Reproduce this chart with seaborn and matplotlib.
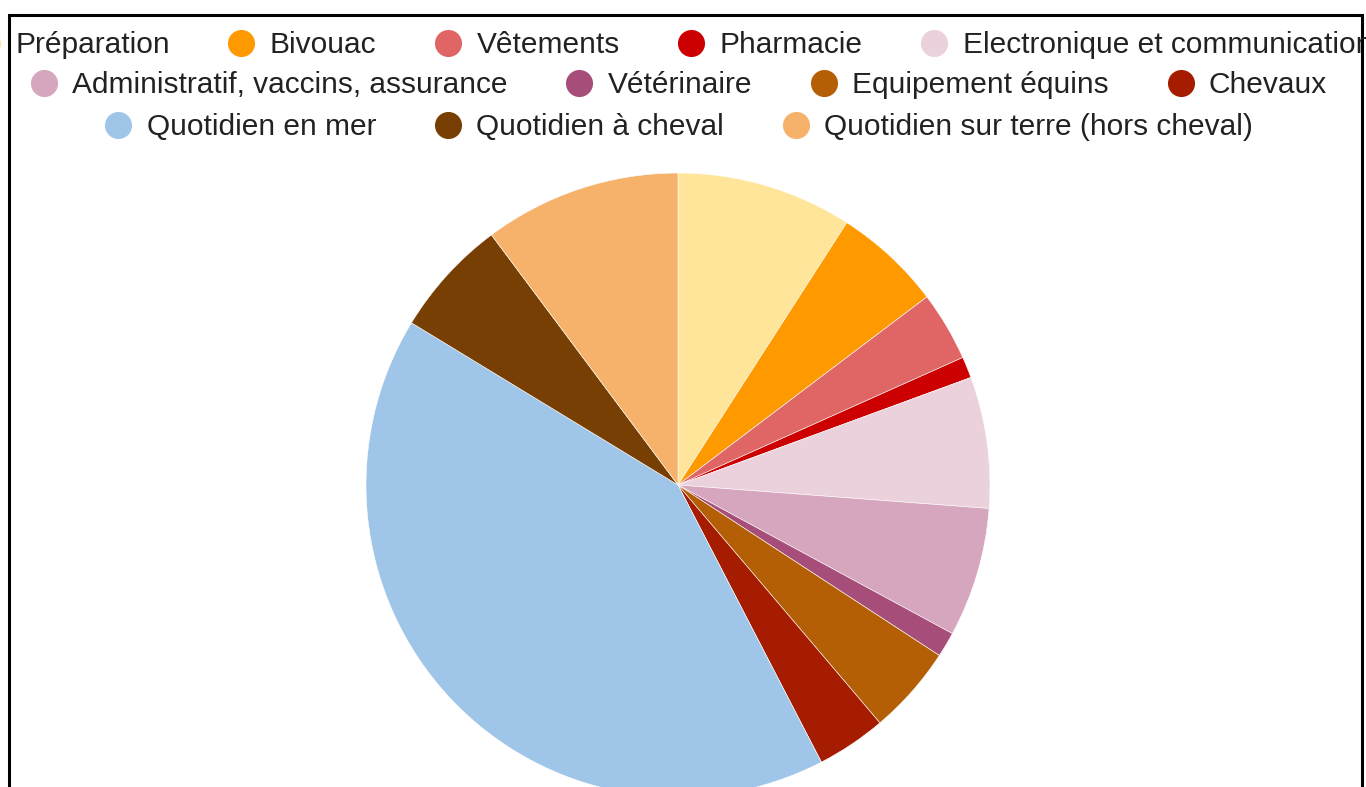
import matplotlib
matplotlib.use("Agg")
import matplotlib.pyplot as plt
from matplotlib.lines import Line2D
from matplotlib.patches import Rectangle
import seaborn as sns

# ---- Data (% of total) ----
categories = [
    "Préparation", "Bivouac", "Vêtements", "Pharmacie",
    "Electronique et communication", "Administratif, vaccins, assurance",
    "Vétérinaire", "Equipement équins", "Chevaux",
    "Quotidien en mer", "Quotidien à cheval", "Quotidien sur terre (hors cheval)",
]
shares = [9.1, 5.6, 3.6, 1.1, 6.8, 6.7, 1.3, 4.6, 3.6, 41.3, 6.1, 10.2]
colors = [
    "#ffe599", "#ff9900", "#e06666", "#cc0000", "#ead1dc", "#d5a6bd",
    "#a64d79", "#b45f06", "#a61c00", "#9fc5e8", "#783f04", "#f6b26b",
]
# legend rows as shown in the reference
legend_rows = [categories[0:5], categories[5:9], categories[9:12]]

sns.set_style("white")
plt.rcParams["font.family"] = ["Liberation Sans", "DejaVu Sans"]
palette = sns.color_palette(colors)

W, H = 1366, 787
fig = plt.figure(figsize=(W / 100, H / 100), dpi=100)

# pie: centre (678, 485) px, radius 312 px
r, cx, cy = 312, 678, 485
ax = fig.add_axes([(cx - r) / W, (H - cy - r) / H, 2 * r / W, 2 * r / H])
ax.pie(shares, colors=palette, startangle=90, counterclock=False,
       wedgeprops=dict(linewidth=0.4, edgecolor="white"))
ax.set_xlim(-1, 1)
ax.set_ylim(-1, 1)
ax.set_aspect("equal")
ax.axis("off")

# ---- legend, three centred rows ----
color_of = dict(zip(categories, palette))
row_y = [45, 85, 127]
row_x = [672, 678, 678]
for names, y, x in zip(legend_rows, row_y, row_x):
    handles = [Line2D([], [], marker="o", ls="", markersize=19.5,
                      markerfacecolor=color_of[n], markeredgewidth=0)
               for n in names]
    leg = fig.legend(handles, names, loc="center", ncol=len(names),
                     bbox_to_anchor=(x / W, 1 - y / H), frameon=False,
                     fontsize=21.5, handlelength=1.0, handletextpad=0.45,
                     columnspacing=1.9, borderpad=0, borderaxespad=0)
    for t in leg.get_texts():
        t.set_color("#222222")

# black frame (bottom edge is cut off in the reference)
fig.add_artist(Rectangle((9 / W, -0.1), (1362 - 9) / W, 1.1 - 15 / H,
                         transform=fig.transFigure, fill=False,
                         edgecolor="black", linewidth=2.2))

fig.savefig("out.png", dpi=100)
